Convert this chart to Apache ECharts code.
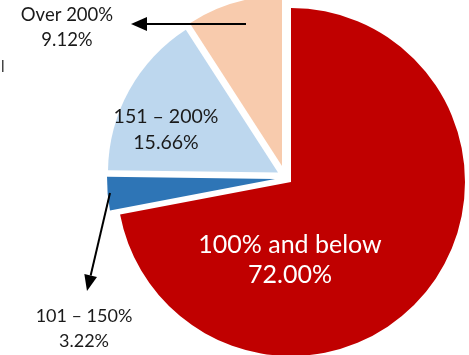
<!DOCTYPE html>
<html>
<head>
<meta charset="utf-8">
<script src="https://cdn.jsdelivr.net/npm/echarts@6/dist/echarts.min.js"></script>
<style>
  html, body { margin: 0; padding: 0; background: #ffffff; }
  #chart { width: 469px; height: 355px; }
</style>
</head>
<body>
<div id="chart"></div>
<script>
// Share of cases by band
const categories = ['100% and below', '101 – 150%', '151 – 200%', 'Over 200%'];
const shares = [72.00, 3.22, 15.66, 9.12];
const sliceColors = ['#C00000', '#2E75B6', '#BDD7EE', '#F8CBAD'];

// Each slice gets its own pie series so it can be pulled out from the centre by its own amount
const sliceLayout = [
  { center: [291, 182], radius: 174 },
  { center: [275, 179], radius: 168 },
  { center: [278, 172.5], radius: 170 },
  { center: [282, 166], radius: 170 }
];

// Where each band's caption sits and how it is styled
const captionLayout = [
  { x: 290, y: 259.5, size: 25, lineHeight: 30, color: '#ffffff' },
  { x: 84, y: 328.5, size: 18, lineHeight: 25, color: '#1a1a1a' },
  { x: 166, y: 129.5, size: 19.5, lineHeight: 26, color: '#1a1a1a' },
  { x: 67, y: 27.5, size: 18.5, lineHeight: 25, color: '#1a1a1a' }
];

const fontFamily = 'Lato, "Open Sans", sans-serif';

const series = sliceLayout.map((layout, i) => ({
  type: 'pie',
  center: layout.center,
  radius: layout.radius,
  startAngle: 90,
  clockwise: true,
  silent: true,
  animation: false,
  avoidLabelOverlap: false,
  label: { show: false },
  labelLine: { show: false },
  emphasis: { disabled: true },
  itemStyle: { borderWidth: 0 },
  data: categories.map((name, j) => ({
    name: name,
    value: shares[j],
    itemStyle: { color: j === i ? sliceColors[j] : 'rgba(0,0,0,0)' }
  }))
}));

const captions = categories.map((name, i) => ({
  type: 'text',
  silent: true,
  z: 10,
  style: {
    text: name + '\n' + shares[i].toFixed(2) + '%',
    x: captionLayout[i].x,
    y: captionLayout[i].y,
    align: 'center',
    verticalAlign: 'middle',
    lineHeight: captionLayout[i].lineHeight,
    font: captionLayout[i].size + 'px ' + fontFamily,
    fill: captionLayout[i].color
  }
}));

// Pointer arrows tying the two small bands to their captions
function arrow(from, to, headLen, headHalf) {
  const dx = to[0] - from[0], dy = to[1] - from[1];
  const len = Math.sqrt(dx * dx + dy * dy);
  const ux = dx / len, uy = dy / len;
  const bx = to[0] - ux * headLen, by = to[1] - uy * headLen;
  return [
    {
      type: 'line', silent: true, z: 11,
      shape: { x1: from[0], y1: from[1], x2: bx, y2: by },
      style: { stroke: '#000000', lineWidth: 2 }
    },
    {
      type: 'polygon', silent: true, z: 11,
      shape: { points: [to, [bx - uy * headHalf, by + ux * headHalf], [bx + uy * headHalf, by - ux * headHalf]] },
      style: { fill: '#000000' }
    }
  ];
}

const arrows = [].concat(
  arrow([246, 24], [131, 24], 16, 7),
  arrow([110, 193], [87, 291], 16, 6.5)
);

const stray = {
  type: 'rect', silent: true,
  shape: { x: 2, y: 60, width: 1.5, height: 12 },
  style: { fill: '#444444' }
};

const chart = echarts.init(document.getElementById('chart'), null, { renderer: 'canvas' });
chart.setOption({
  animation: false,
  backgroundColor: '#ffffff',
  series: series,
  graphic: captions.concat(arrows, [stray])
});
</script>
</body>
</html>
